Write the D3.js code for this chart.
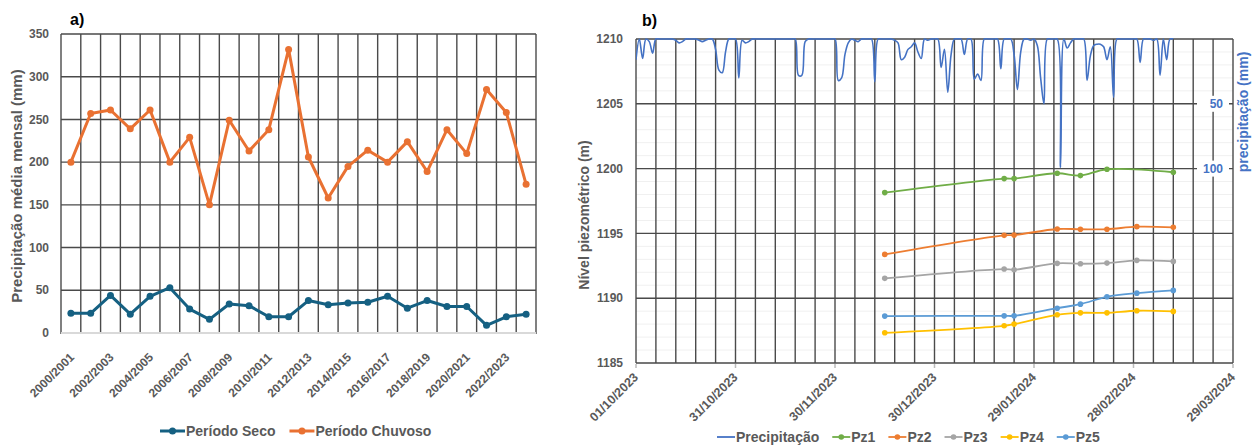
<!DOCTYPE html>
<html>
<head>
<meta charset="utf-8">
<script src="https://cdn.jsdelivr.net/npm/d3@7"></script>
<style>
body{margin:0;background:#fff}
text{font-family:"Liberation Sans",Arial,sans-serif;font-weight:bold}
</style>
</head>
<body>
<svg id="chart" width="1253" height="446"></svg>
<script>
// ---- a) precipitação média mensal por ano hidrológico
var seasons = ["2000/2001","2001/2002","2002/2003","2003/2004","2004/2005","2005/2006",
  "2006/2007","2007/2008","2008/2009","2009/2010","2010/2011","2011/2012",
  "2012/2013","2013/2014","2014/2015","2015/2016","2016/2017","2017/2018",
  "2018/2019","2019/2020","2020/2021","2021/2022","2022/2023","2023/2024"];
var seco = [23,23,44,22,43,53,28,16,34,32,19,19,38,33,35,36,43,29,38,31,31,9,19,22];
var chuvoso = [200,257,261,239,261,200,229,150,249,213,238,332,206,158,195,214,200,224,189,238,210,285,258,174];
var yTicksA = [0,50,100,150,200,250,300,350];

// ---- b) nível piezométrico e precipitação diária
var pzDates = ["2023-12-15","2024-01-20","2024-01-23","2024-02-05","2024-02-12","2024-02-20","2024-02-29","2024-03-11"];
var pz1 = [1198.15,1199.23,1199.23,1199.64,1199.46,1199.95,null,1199.72];
var pz2 = [1193.38,1194.85,1194.87,1195.34,1195.32,1195.32,1195.52,1195.47];
var pz3 = [1191.53,1192.25,1192.20,1192.69,1192.66,1192.71,1192.92,1192.84];
var pz4 = [1187.33,1187.87,1188.00,1188.72,1188.87,1188.87,1189.03,1188.98];
var pz5 = [1188.62,1188.64,1188.64,1189.23,1189.54,1190.11,1190.39,1190.60];
var precipStart = "2023-10-01";
var precip = [
  16,0,15,0,2,11,0,0,0,0,
  0,0,1,3,2,0,0,0,0,1,
  2,1,0,0,8,24,26,10,0,0,
  0,30,1,3,2,0,0,0,0,0,
  0,0,0,0,0,0,0,0,0,28,
  28,2,0,0,0,0,0,0,0,0,
  0,32,30,12,3,0,1,2,0,0,
  0,0,33,0,0,0,0,0,1,3,
  16,14,8,6,3,10,15,0,1,0,
  0,0,22,8,41,12,0,0,0,12,
  0,0,31,27,32,0,0,0,0,0,
  23,0,0,0,12,39,10,0,0,1,
  0,5,30,50,0,0,0,0,99,0,
  7,3,0,0,0,0,32,13,5,4,
  4,6,16,6,45,0,0,0,0,0,
  0,0,18,0,0,0,1,0,28,0,
  16,0,0];
var dateLabels = ["01/10/2023","31/10/2023","30/11/2023","30/12/2023","29/01/2024","28/02/2024","29/03/2024"];
var yTicksB = [1185,1190,1195,1200,1205,1210];
var precipTicks = [50,100];

var svg = d3.select("#chart");
var gray = "#595959", grid = "#4a4a4a";

// ================= panel a =================
var xa = d3.scaleBand().domain(seasons).range([61,536]);
var ya = d3.scaleLinear().domain([0,350]).range([333,34]);
var bw = xa.bandwidth();
var ga = svg.append("g");

ga.selectAll("line.h").data(yTicksA.slice(1)).enter().append("line")
  .attr("x1",61).attr("x2",536)
  .attr("y1",function(d){return ya(d);}).attr("y2",function(d){return ya(d);})
  .attr("stroke",grid).attr("stroke-width",1.4);
var edgesA = seasons.map(function(s){return xa(s);}).concat([xa.range()[1]]);
ga.selectAll("line.v").data(edgesA).enter().append("line")
  .attr("x1",function(d){return d;}).attr("x2",function(d){return d;})
  .attr("y1",ya(350)).attr("y2",ya(0)+1)
  .attr("stroke",grid).attr("stroke-width",1.4);
ga.append("line").attr("x1",61).attr("x2",536).attr("y1",ya(0)).attr("y2",ya(0))
  .attr("stroke","#d9d9d9").attr("stroke-width",2);

ga.selectAll("text.yl").data(yTicksA).enter().append("text")
  .attr("x",49).attr("y",function(d){return ya(d);}).attr("dy","0.35em")
  .attr("text-anchor","end").attr("fill",gray).style("font-size","12px")
  .text(function(d){return d;});

ga.selectAll("text.xl").data(seasons.filter(function(s,i){return i%2==0;})).enter().append("text")
  .attr("text-anchor","end").attr("fill",gray).style("font-size","12px")
  .attr("transform",function(d){return "translate("+(xa(d)+bw/2+4)+",358) rotate(-45)";})
  .text(function(d){return d;});

ga.append("text").attr("transform","translate(22,186) rotate(-90)")
  .attr("text-anchor","middle").attr("fill",gray).style("font-size","15px")
  .text("Precipitação média mensal (mm)");
ga.append("text").attr("x",70).attr("y",25).style("font-size","16px").attr("fill","#000").text("a)");

var seriesA = [
  {name:"Período Seco", values:seco, color:"#156082"},
  {name:"Período Chuvoso", values:chuvoso, color:"#E97132"}
];
var lineA = d3.line()
  .x(function(d,i){return xa(seasons[i])+bw/2;})
  .y(function(d){return ya(d);});
seriesA.forEach(function(s){
  ga.append("path").attr("d",lineA(s.values)).attr("fill","none")
    .attr("stroke",s.color).attr("stroke-width",3).attr("stroke-linejoin","round");
  ga.selectAll(null).data(s.values).enter().append("circle")
    .attr("cx",function(d,i){return xa(seasons[i])+bw/2;})
    .attr("cy",function(d){return ya(d);})
    .attr("r",3.5).attr("fill",s.color);
});

// legend a
var lx = 160;
seriesA.forEach(function(s){
  ga.append("line").attr("x1",lx).attr("x2",lx+25).attr("y1",431).attr("y2",431)
    .attr("stroke",s.color).attr("stroke-width",3);
  ga.append("circle").attr("cx",lx+12.5).attr("cy",431).attr("r",3.5).attr("fill",s.color);
  var t = ga.append("text").attr("x",lx+26).attr("y",436).attr("fill",gray)
    .style("font-size","14px").text(s.name);
  lx += 26 + t.node().getComputedTextLength() + 14;
});

// ================= panel b =================
var parse = d3.utcParse("%Y-%m-%d"), parseL = d3.utcParse("%d/%m/%Y");
var t0 = parseL(dateLabels[0]), t1 = parseL(dateLabels[dateLabels.length-1]);
var xb = d3.scaleUtc().domain([t0,t1]).range([636,1233]);
var yb = d3.scaleLinear().domain([1185,1210]).range([363,39]);
var yp = d3.scaleLinear().domain([0,250]).range([39,363]);
var gb = svg.append("g");

gb.selectAll("line.mh").data(d3.range(1185,1211,1)).enter().append("line")
  .attr("x1",636).attr("x2",1233)
  .attr("y1",function(d){return yb(d);}).attr("y2",function(d){return yb(d);})
  .attr("stroke","#f0f0f0").attr("stroke-width",1);
var vdays = d3.range(0, d3.utcDay.count(t0,t1)+1, 6).map(function(n){return d3.utcDay.offset(t0,n);});
gb.selectAll("line.v").data(vdays).enter().append("line")
  .attr("x1",function(d){return xb(d);}).attr("x2",function(d){return xb(d);})
  .attr("y1",39).attr("y2",363)
  .attr("stroke",grid).attr("stroke-width",1.4);
gb.selectAll("line.h").data(yTicksB).enter().append("line")
  .attr("x1",636).attr("x2",1233)
  .attr("y1",function(d){return yb(d);}).attr("y2",function(d){return yb(d);})
  .attr("stroke",grid).attr("stroke-width",1.4);
gb.selectAll("line.tk").data(dateLabels).enter().append("line")
  .attr("x1",function(d){return xb(parseL(d));}).attr("x2",function(d){return xb(parseL(d));})
  .attr("y1",364).attr("y2",368).attr("stroke","#bbb").attr("stroke-width",1.5);

gb.selectAll("text.yl").data(yTicksB).enter().append("text")
  .attr("x",623).attr("y",function(d){return yb(d);}).attr("dy","0.35em")
  .attr("text-anchor","end").attr("fill",gray).style("font-size","12px")
  .text(function(d){return d;});
gb.selectAll("text.xl").data(dateLabels).enter().append("text")
  .attr("text-anchor","end").attr("fill",gray).style("font-size","12.5px")
  .attr("transform",function(d){return "translate("+(xb(parseL(d))+3)+",378) rotate(-45)";})
  .text(function(d){return d;});

// secondary axis labels (precipitation, reversed)
gb.selectAll("rect.pl").data(precipTicks).enter().append("rect")
  .attr("x",1197).attr("y",function(d){return yp(d)-8;}).attr("width",32).attr("height",16)
  .attr("fill","#fff");
gb.selectAll("text.pl").data(precipTicks).enter().append("text")
  .attr("x",1223).attr("y",function(d){return yp(d);}).attr("dy","0.35em")
  .attr("text-anchor","end").attr("fill","#4472C4").style("font-size","12px")
  .text(function(d){return d;});

gb.append("text").attr("transform","translate(589,215) rotate(-90)")
  .attr("text-anchor","middle").attr("fill",gray).style("font-size","14px")
  .text("Nível piezométrico (m)");
gb.append("text").attr("transform","translate(1248,112) rotate(-90)")
  .attr("text-anchor","middle").attr("fill","#4472C4").style("font-size","14px")
  .text("precipitação (mm)");
gb.append("text").attr("x",642).attr("y",26).style("font-size","16px").attr("fill","#000").text("b)");

// precipitation line
svg.append("clipPath").attr("id","clipb").append("rect")
  .attr("x",636).attr("y",38).attr("width",597).attr("height",326);
var pStart = parse(precipStart);
var lineP = d3.line().curve(d3.curveCatmullRom.alpha(0.5))
  .x(function(d,i){return xb(d3.utcDay.offset(pStart,i));})
  .y(function(d){return yp(d);});
gb.append("path").attr("d",lineP(precip)).attr("clip-path","url(#clipb)")
  .attr("fill","none").attr("stroke","#4472C4").attr("stroke-width",1.6);

// piezometers
var wells = [
  {name:"Pz1", values:pz1, color:"#70AD47"},
  {name:"Pz2", values:pz2, color:"#ED7D31"},
  {name:"Pz3", values:pz3, color:"#A5A5A5"},
  {name:"Pz4", values:pz4, color:"#FFC000"},
  {name:"Pz5", values:pz5, color:"#5B9BD5"}
];
var lineW = d3.line().curve(d3.curveCatmullRom.alpha(0.5))
  .x(function(d){return xb(parse(d.date));})
  .y(function(d){return yb(d.v);});
wells.forEach(function(w){
  var pts = pzDates.map(function(d,i){return {date:d, v:w.values[i]};})
    .filter(function(d){return d.v!=null;});
  gb.append("path").attr("d",lineW(pts)).attr("fill","none")
    .attr("stroke",w.color).attr("stroke-width",1.8);
  gb.selectAll(null).data(pts).enter().append("circle")
    .attr("cx",function(d){return xb(parse(d.date));})
    .attr("cy",function(d){return yb(d.v);})
    .attr("r",2.8).attr("fill",w.color);
});

// legend b
var legB = [{name:"Precipitação", color:"#4472C4", marker:false}].concat(
  wells.map(function(w){return {name:w.name, color:w.color, marker:true};}));
var bx = 717;
legB.forEach(function(s){
  gb.append("line").attr("x1",bx).attr("x2",bx+18).attr("y1",437).attr("y2",437)
    .attr("stroke",s.color).attr("stroke-width",1.8);
  if(s.marker) gb.append("circle").attr("cx",bx+9).attr("cy",437).attr("r",2.8).attr("fill",s.color);
  var t = gb.append("text").attr("x",bx+19).attr("y",442).attr("fill",gray)
    .style("font-size","14px").text(s.name);
  bx += 19 + t.node().getComputedTextLength() + 13;
});
</script>
</body>
</html>
